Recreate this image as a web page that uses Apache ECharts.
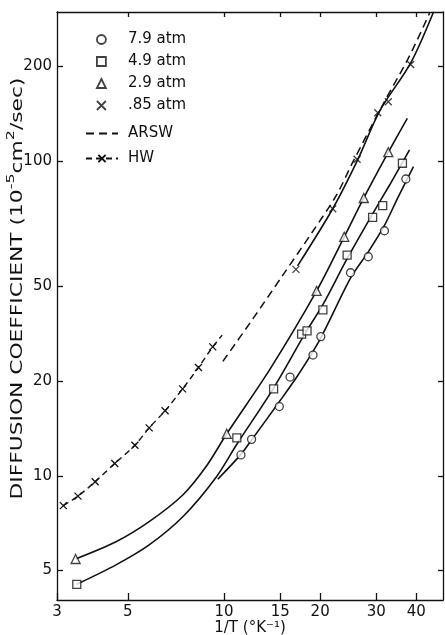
<!DOCTYPE html>
<html>
<head>
<meta charset="utf-8">
<script src="https://cdn.jsdelivr.net/npm/echarts@6/dist/echarts.min.js"></script>
<style>
  html, body { margin: 0; padding: 0; background: #fff; }
  #chart { width: 445px; height: 635px; }
</style>
</head>
<body>
<div id="chart"></div>
<script>
// Axis ticks (1/T in K^-1, D in 1e-5 cm^2/sec)
const xTicks = [3, 5, 10, 15, 20, 30, 40];
const yTickValues = [5, 10, 20, 40, 100, 200];
const yTickText = ['5', '10', '20', '50', '100', '200'];
const xRange = [3, 48.5];
const yRange = [4.03, 298];

// Measured points [1/T, D]
const p79 = [[11.3, 11.65], [12.2, 13.06], [14.9, 16.6], [16.1, 20.6], [19.0, 24.2], [20.1, 27.7],
             [24.9, 44.2], [28.3, 49.7], [31.8, 60.1], [37.1, 87.8]];
const p49 = [[3.46, 4.52], [10.97, 13.2], [14.3, 18.9], [17.5, 28.2], [18.2, 28.9], [20.4, 33.7],
             [24.3, 50.3], [29.2, 66.3], [31.4, 72.2], [36.2, 98.5]];
const p29 = [[3.43, 5.44], [10.2, 13.6], [19.5, 38.7], [23.8, 57.5], [27.4, 76.4], [32.7, 106.8]];
const p085 = [[16.8, 45.3], [21.9, 70.6], [26.1, 101.4], [30.3, 142.6], [32.7, 154.6], [38.4, 203]];

// Smooth curves drawn through each pressure set
const c79 = [[9.56, 9.75], [11.3, 11.7], [12.2, 13.0], [14.9, 17.2], [17, 20.8], [20, 27.2],
             [24.9, 42.5], [28.3, 51.5], [31.8, 62.5], [35, 76.5], [39.2, 96.1]];
const c49 = [[3.46, 4.52], [4.59, 5.21], [5.83, 6.03], [7.43, 7.41], [9.45, 9.9], [10.97, 12.6],
             [14.3, 19.0], [18.0, 28.5], [20.4, 35], [24.3, 49], [29.2, 68], [33, 84], [38.1, 108.6]];
const c29 = [[3.43, 5.44], [4.59, 6.17], [5.83, 7.15], [7.43, 8.69], [8.79, 10.7], [10.2, 13.6],
             [14, 22], [19.5, 38.7], [23.8, 57.5], [27.4, 76.4], [32.7, 106.8], [37.5, 136.9]];
const c085 = [[17.0, 46.5], [21.9, 70.6], [26.1, 100], [30.8, 145], [38.4, 205], [45.3, 298]];

// Theory curves
const arsw = [[9.92, 23.1], [12.3, 31.5], [15.3, 43.5], [19.0, 60], [22.5, 78], [25.4, 100],
              [31.5, 152], [38, 215], [44.2, 298]];
const hw = [[3.14, 8.04], [3.49, 8.62], [3.95, 9.58], [4.55, 10.95], [5.26, 12.5], [5.83, 14.2],
            [6.54, 16.1], [7.42, 18.9], [8.32, 22.1], [9.22, 25.7]];
const hwEnd = [9.87, 28.0];

const lg = Math.log10;
const toLog = pts => pts.map(p => [lg(p[0]), lg(p[1])]);
const INK = '#111';
const crossPath = 'path://M0,0L10,10M0,10L10,0';

const markerStyle = { color: '#fff', borderColor: INK, borderWidth: 1.3 };
const crossStyle = { color: 'transparent', borderColor: INK, borderWidth: 1.3 };
const solid = { color: INK, width: 1.6 };

function fitLine(pts) {
  return {
    type: 'line', data: toLog(pts), smooth: 0.3, showSymbol: false, symbol: 'none',
    lineStyle: solid, itemStyle: { color: INK }, silent: true, z: 2
  };
}

const hwData = toLog(hw);
hwData.push({ value: [lg(hwEnd[0]), lg(hwEnd[1])], symbol: 'none' });

const axisLine = { show: true, lineStyle: { color: INK, width: 1.3 } };
const labelFont = { color: INK, fontSize: 15, fontFamily: 'DejaVu Sans' };
const legendMark = { color: '#fff', borderColor: INK, borderWidth: 1.8 };

const option = {
  animation: false,
  backgroundColor: '#fff',
  grid: { left: 57, right: 2, top: 12, bottom: 35, outerBoundsMode: 'none', containLabel: false },
  xAxis: [
    {
      type: 'value', position: 'bottom', min: lg(xRange[0]), max: lg(xRange[1]),
      axisLine, splitLine: { show: false },
      axisTick: { inside: true, length: 7, lineStyle: { color: INK, width: 1.3 },
                  customValues: xTicks.map(lg) },
      axisLabel: Object.assign({ margin: 5, customValues: xTicks.map(lg), showMinLabel: true,
                  formatter: v => String(Math.round(Math.pow(10, v))) }, labelFont),
      name: '1/T (°K⁻¹)', nameLocation: 'middle', nameGap: 21, nameMoveOverlap: false,
      nameTextStyle: labelFont
    },
    {
      type: 'value', position: 'top', min: lg(xRange[0]), max: lg(xRange[1]),
      axisLine, splitLine: { show: false },
      axisTick: { inside: true, length: 5, lineStyle: { color: INK, width: 1.3 },
                  customValues: xTicks.slice(1).map(lg) },
      axisLabel: { show: false }
    }
  ],
  yAxis: [
    {
      type: 'value', position: 'left', min: lg(yRange[0]), max: lg(yRange[1]),
      axisLine, splitLine: { show: false },
      axisTick: { inside: true, length: 6, lineStyle: { color: INK, width: 1.3 },
                  customValues: yTickValues.map(lg) },
      axisLabel: Object.assign({ margin: 5, customValues: yTickValues.map(lg),
                  formatter: v => yTickText[yTickValues.indexOf(Math.round(Math.pow(10, v)))] }, labelFont)
    },
    {
      type: 'value', position: 'right', min: lg(yRange[0]), max: lg(yRange[1]),
      axisLine, splitLine: { show: false },
      axisTick: { inside: true, length: 5, lineStyle: { color: INK, width: 1.3 },
                  customValues: yTickValues.map(lg) },
      axisLabel: { show: false }
    }
  ],
  legend: [
    {
      orient: 'vertical', left: 91, top: 27, itemWidth: 9, itemHeight: 9, itemGap: 7,
      data: [
        { name: '7.9 atm', icon: 'circle', itemStyle: legendMark },
        { name: '4.9 atm', icon: 'rect', itemStyle: legendMark },
        { name: '2.9 atm', icon: 'triangle', itemStyle: legendMark },
        { name: '.85 atm', icon: crossPath, itemStyle: { color: 'transparent', borderColor: INK, borderWidth: 1.8 } }
      ],
      textStyle: Object.assign({ padding: [0, 0, 0, 17] }, labelFont),
      selectedMode: false
    },
    {
      orient: 'vertical', left: 80, top: 121, itemWidth: 32, itemHeight: 9, itemGap: 10,
      data: [
        { name: 'ARSW', itemStyle: { opacity: 0 } },
        { name: 'HW' }
      ],
      textStyle: Object.assign({ padding: [0, 0, 0, 5] }, labelFont),
      selectedMode: false
    }
  ],
  graphic: [
    {
      type: 'text', x: 16, y: 288.5, rotation: Math.PI / 2, scaleX: 1.45,
      style: {
        text: '{t|DIFFUSION COEFFICIENT (10}{s|-5}{t|cm}{s|2}{t|/sec)}',
        fill: INK, align: 'center', verticalAlign: 'middle',
        rich: {
          t: { fontSize: 15, fontFamily: 'DejaVu Sans', fill: INK, lineHeight: 20, verticalAlign: 'bottom' },
          s: { fontSize: 11, fontFamily: 'DejaVu Sans', fill: INK, lineHeight: 20, verticalAlign: 'top' }
        }
      }
    }
  ],
  series: [
    fitLine(c79), fitLine(c49), fitLine(c29), fitLine(c085),
    {
      name: 'ARSW', type: 'line', data: toLog(arsw), smooth: 0.3, showSymbol: false, symbol: 'none',
      itemStyle: { color: INK }, lineStyle: { color: INK, width: 1.5, type: [8, 5] }, z: 2
    },
    {
      name: 'HW', type: 'line', data: hwData, smooth: 0.3, symbol: crossPath, symbolSize: 7,
      itemStyle: crossStyle, lineStyle: { color: INK, width: 1.4, type: [6, 4] }, z: 3
    },
    { name: '7.9 atm', type: 'scatter', data: toLog(p79), symbol: 'circle', symbolSize: 8, itemStyle: markerStyle, z: 4 },
    { name: '4.9 atm', type: 'scatter', data: toLog(p49), symbol: 'rect', symbolSize: 8, itemStyle: markerStyle, z: 4 },
    { name: '2.9 atm', type: 'scatter', data: toLog(p29), symbol: 'triangle', symbolSize: 9, itemStyle: markerStyle, z: 4 },
    { name: '.85 atm', type: 'scatter', data: toLog(p085), symbol: crossPath, symbolSize: 7, itemStyle: crossStyle, z: 4 }
  ]
};

const chart = echarts.init(document.getElementById('chart'), null, { renderer: 'canvas' });
chart.setOption(option);
</script>
</body>
</html>
